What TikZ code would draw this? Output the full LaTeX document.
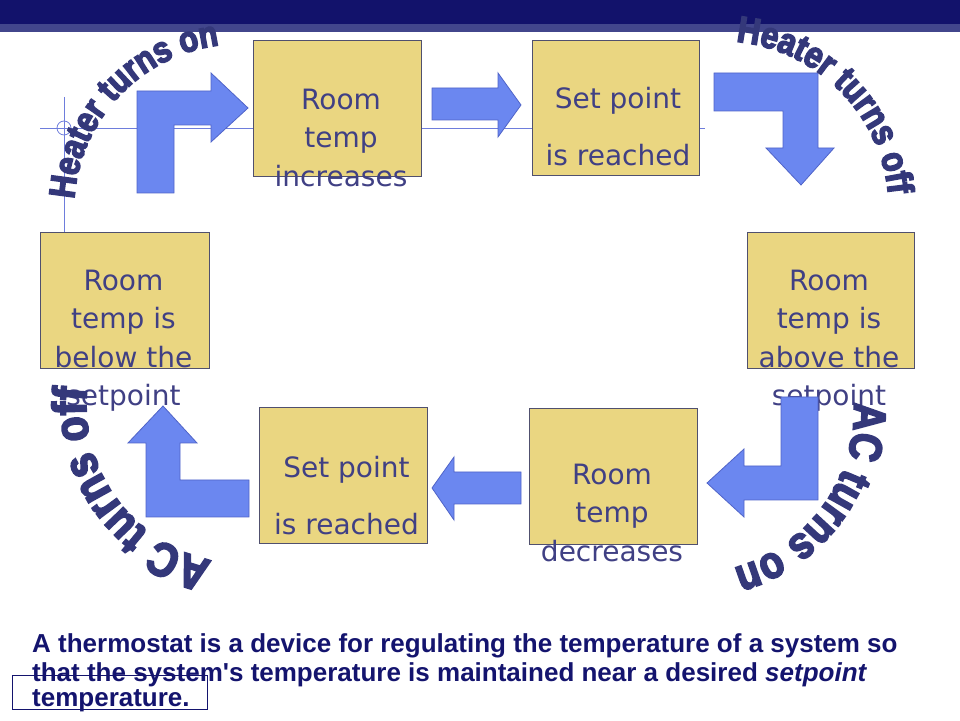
\documentclass[tikz,border=0pt]{standalone}
\usepackage{fontspec}
\usetikzlibrary{decorations.text}
\newfontfamily\boxfont{DejaVu Sans}
\newfontfamily\capfont{Liberation Sans}
\newfontfamily\arcfont[FakeStretch=0.85,BoldFeatures={FakeBold=4}]{Liberation Sans}
\definecolor{navy}{RGB}{18,18,107}
\definecolor{band}{RGB}{66,70,140}
\definecolor{guide}{RGB}{110,125,220}
\definecolor{boxfill}{RGB}{234,214,129}
\definecolor{boxedge}{RGB}{80,80,110}
\definecolor{boxtext}{RGB}{64,64,132}
\definecolor{arrfill}{RGB}{107,135,240}
\definecolor{arredge}{RGB}{80,100,200}
\definecolor{arctext}{RGB}{52,56,122}
\definecolor{captext}{RGB}{20,20,110}
\tikzset{
  stepbox/.style={draw=boxedge, fill=boxfill, line width=1pt, anchor=south west, inner sep=0pt, outer sep=0pt},
  boxlbl/.style={text=boxtext, font=\boxfont\fontsize{28}{38.5}\selectfont, align=center, inner sep=0pt, anchor=north},
  blockarrow/.style={draw=arredge, fill=arrfill, line width=0.8pt, line join=miter},
  guideline/.style={draw=guide, line width=0.8pt},
  arctxt/.style={decorate, decoration={text along path, text align=center, text color=arctext, text={#1}}}
}
\begin{document}
\begin{tikzpicture}[x=1pt,y=1pt]
\useasboundingbox (0,0) rectangle (960,720);
% banner
\fill[navy] (0,696) rectangle (960,720);
\fill[band] (0,688) rectangle (960,696);
% guide lines
\draw[guideline] (40,592) -- (705,592);
\draw[guideline] (64,623) -- (64,487);
\draw[guideline] (64,592) circle[radius=7];
% boxes
\node[stepbox, minimum width=168pt, minimum height=136pt] (b1) at (253,543) {};
\node[stepbox, minimum width=167pt, minimum height=135pt] (b2) at (532,544) {};
\node[stepbox, minimum width=167pt, minimum height=136pt] (b3) at (747,351) {};
\node[stepbox, minimum width=169pt, minimum height=136pt] (b4) at (40,351) {};
\node[stepbox, minimum width=168pt, minimum height=136pt] (b5) at (259,176) {};
\node[stepbox, minimum width=168pt, minimum height=136pt] (b6) at (529,175) {};
% box texts
\node[boxlbl] (t1) at (341,631.4) {Room\\temp\\increases};
\node[boxlbl] (t2) at (618,632.8) {Set point\\[18.5pt]is reached};
\node[boxlbl] (t3) at (829,450.4) {Room\\temp is\\above the\\setpoint};
\node[boxlbl] (t4) at (123.5,450.4) {Room\\temp is\\below the\\setpoint};
\node[boxlbl] (t5) at (346.5,263.8) {Set point\\[18pt]is reached};
\node[boxlbl] (t6) at (612,256.4) {Room\\temp\\decreases};
% block arrows
\draw[blockarrow] (137,527) -- (137,629) -- (211,629) -- (211,647) -- (248,612) -- (211,578) -- (211,595) -- (174,595) -- (174,527) -- cycle;
\draw[blockarrow] (432,632) -- (498,632) -- (498,647) -- (521,615) -- (498,583) -- (498,600) -- (432,600) -- cycle;
\draw[blockarrow] (714,647) -- (818,647) -- (818,572) -- (834,572) -- (801,535) -- (766,572) -- (783,572) -- (783,609) -- (714,609) -- cycle;
\draw[blockarrow] (781,323) -- (818,323) -- (818,220) -- (744,220) -- (744,203) -- (707,237) -- (744,271) -- (744,254) -- (781,254) -- cycle;
\draw[blockarrow] (521,248) -- (454,248) -- (454,263) -- (432,232) -- (454,200) -- (454,216) -- (521,216) -- cycle;
\draw[blockarrow] (249,240) -- (249,203) -- (146,203) -- (146,277) -- (128,277) -- (163,314) -- (197,277) -- (180,277) -- (180,240) -- cycle;
% curved labels
\path[arctxt={|\arcfont\bfseries\fontsize{36.5}{36.5}\selectfont|Heater turns on}]
  (240,510) ++(186.7:166) arc[start angle=186.7, end angle=86.7, radius=166];
\path[arctxt={|\arcfont\bfseries\fontsize{37}{37}\selectfont|Heater turns off}]
  (720,510) ++(94.9:169) arc[start angle=94.9, end angle=-5.1, radius=169];
\path[arctxt={|\arcfont\bfseries\fontsize{45.5}{45.5}\selectfont|AC turns on}]
  (690,310) ++(14:164) arc[start angle=14, end angle=-86, radius=164];
\path[arctxt={|\arcfont\bfseries\fontsize{47.5}{47.5}\selectfont|AC turns off}]
  (245,315) ++(-94.1:159) arc[start angle=-94.1, end angle=-194.1, radius=159];
% caption
\draw[draw=captext, line width=0.8pt] (12,11) rectangle (207,45);
\node[anchor=north west, inner sep=0pt, align=left, text=captext,
      font=\capfont\bfseries\fontsize{26}{29.5}\selectfont] (cap) at (32,87)
  {A thermostat is a device for regulating the temperature of a system so\\
   that the system's temperature is maintained near a desired \textit{setpoint}\\[-5pt]
   temperature.};
\end{tikzpicture}
\end{document}
